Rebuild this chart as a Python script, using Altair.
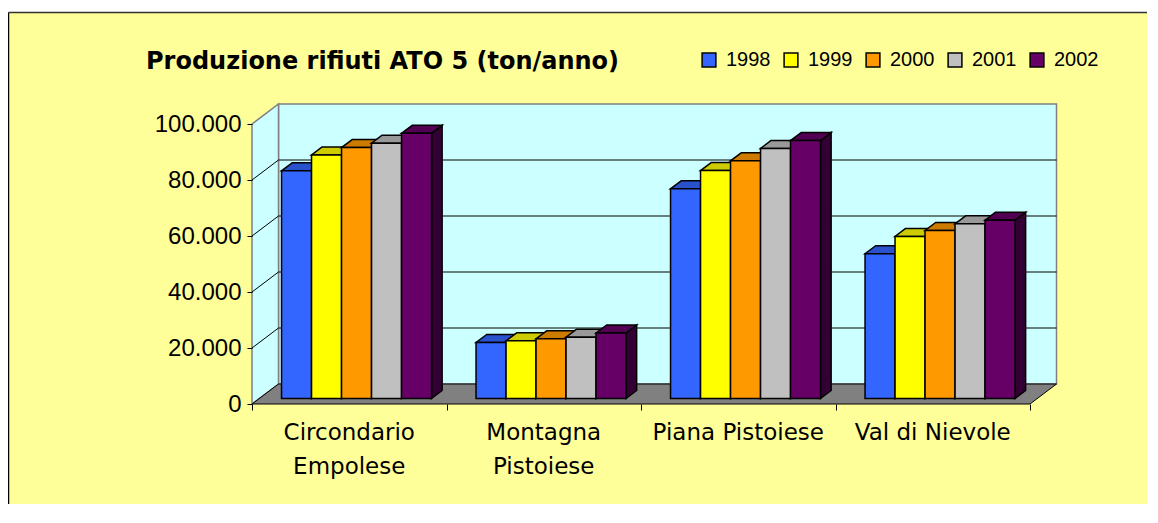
import altair as alt
import pandas as pd

# ---------------- data ----------------
categories = ["Circondario\nEmpolese", "Montagna\nPistoiese", "Piana Pistoiese", "Val di Nievole"]
years = ["1998", "1999", "2000", "2001", "2002"]
v1998 = [81300, 20000, 74900, 51700]
v1999 = [87000, 20600, 81400, 57900]
v2000 = [89600, 21300, 84900, 60000]
v2001 = [91200, 21900, 89300, 62400]
v2002 = [94700, 23400, 92100, 63700]
series = [v1998, v1999, v2000, v2001, v2002]
y_ticks = [0, 20000, 40000, 60000, 80000, 100000]
grid_vals = [20000, 40000, 60000, 80000]

front_colors = ["#3366FF", "#FFFF00", "#FF9900", "#C0C0C0", "#660066"]
top_colors = ["#2A52CC", "#CCCC00", "#CC7A00", "#999999", "#520052"]
side_colors = ["#1F3D99", "#999900", "#995C00", "#737373", "#330033"]

title_text = "Produzione rifiuti ATO 5 (ton/anno)"
FONT = "Liberation Sans"
WIDE = "DejaVu Sans"

# ---------------- layout (pseudo 3-D) ----------------
W, H = 805, 300
PAD = {"left": 244, "top": 96, "right": 90, "bottom": 100}
PX_PER_CAT = 194.5
PX_PER_VAL = 56 / 20000
XMAX = W / PX_PER_CAT
YMAX = H / PX_PER_VAL
DX = 26.5 / PX_PER_CAT        # wall depth in x units
DY = 20 / PX_PER_VAL          # wall depth in value units
F1 = 0.275                    # depth of bar fronts
BD = 0.4                      # bar depth (fraction of wall depth)
BW = 30 / PX_PER_CAT
GAP = (1 - 5 * BW) / 2
NCAT = len(categories)

front, tops, sides = [], [], []
for i, (yr, vals) in enumerate(zip(years, series)):
    for c, v in enumerate(vals):
        x0 = c + GAP + i * BW + F1 * DX
        x1 = x0 + BW
        yb = F1 * DY
        yt = v + F1 * DY
        bid = f"{yr}-{c}"
        front.append(dict(year=yr, cat=categories[c].replace("\n", " "), value=v,
                          x0=x0, x1=x1, yb=yb, yt=yt))
        tops.append(dict(id=bid, col=top_colors[i], y=yt, xa=x0, xb=x1))
        tops.append(dict(id=bid, col=top_colors[i], y=yt + BD * DY, xa=x0 + BD * DX, xb=x1 + BD * DX))
        sides.append(dict(id=bid, col=side_colors[i], x=x1, ya=yb, yb=yt))
        sides.append(dict(id=bid, col=side_colors[i], x=x1 + BD * DX, ya=yb + BD * DY, yb=yt + BD * DY))

front_df = pd.DataFrame(front)
tops_df = pd.DataFrame(tops)
sides_df = pd.DataFrame(sides)

back_df = pd.DataFrame([dict(x=DX, x2=NCAT + DX, y=DY, y2=y_ticks[-1] + DY)])
left_df = pd.DataFrame([dict(x=0, y=0, y2=y_ticks[-1]), dict(x=DX, y=DY, y2=y_ticks[-1] + DY)])
floor_df = pd.DataFrame([dict(y=0, x=0, x2=NCAT), dict(y=DY, x=DX, x2=NCAT + DX)])
grid_rows = []
for g in grid_vals:
    grid_rows.append(dict(x=DX, x2=NCAT + DX, y=g + DY, y2=g + DY))
    grid_rows.append(dict(x=0, x2=DX, y=g, y2=g + DY))
grid_df = pd.DataFrame(grid_rows)
label_df = pd.DataFrame(dict(label=categories, x=[c + 0.5 for c in range(NCAT)], y=[0] * NCAT))

# ---------------- scales / axes ----------------
xscale = alt.Scale(domain=[0, XMAX], nice=False, zero=False)
yscale = alt.Scale(domain=[0, YMAX], nice=False, zero=False)
xaxis = alt.Axis(values=list(range(NCAT + 1)), labels=False, domain=False, grid=False,
                 ticks=True, tickColor="black", tickSize=6, tickWidth=1, title=None, zindex=3)
yaxis = alt.Axis(values=y_ticks, domain=False, grid=False, ticks=True, tickColor="black",
                 tickSize=5, tickWidth=1, title=None, labelFont=FONT, labelFontSize=24,
                 labelColor="black", labelPadding=6, zindex=3,
                 labelExpr="datum.value == 0 ? '0' : format(datum.value / 1000, 'd') + '.000'")


def X(f):
    return alt.X(f, type="quantitative", scale=xscale, axis=xaxis)


def Y(f):
    return alt.Y(f, type="quantitative", scale=yscale, axis=yaxis)


one = pd.DataFrame({"t": [title_text]})
TOPY = -91.5
LEFTX = -243.5
RIGHTX = W + PAD["right"] + 10
BOTY = H + PAD["bottom"] + 10

frame = alt.Chart(one).mark_rect(fill="#FFFF99").encode(
    x=alt.value(LEFTX), x2=alt.value(RIGHTX), y=alt.value(TOPY), y2=alt.value(BOTY))

frame_left = alt.Chart(one).mark_rule(color="black", strokeWidth=1.5).encode(
    x=alt.value(LEFTX), y=alt.value(TOPY), y2=alt.value(BOTY))
frame_top = alt.Chart(one).mark_rule(color="#333333", strokeWidth=1.5).encode(
    x=alt.value(LEFTX), x2=alt.value(RIGHTX), y=alt.value(TOPY))

title = alt.Chart(one).mark_text(
    align="left", baseline="alphabetic", font=WIDE, fontSize=24, fontWeight="bold", color="black"
).encode(x=alt.value(-106), y=alt.value(-35), text="t:N")

back = alt.Chart(back_df).mark_rect(fill="#CCFFFF", stroke="#808080", strokeWidth=1.5).encode(
    x=X("x"), x2="x2", y=Y("y"), y2="y2")

left = alt.Chart(left_df).mark_area(fill="#CCFFFF", stroke="#808080", strokeWidth=1.5,
                                    orient="vertical").encode(x=X("x"), y=Y("y"), y2="y2")

floor = alt.Chart(floor_df).mark_area(fill="#808080", stroke="black", strokeWidth=1,
                                      orient="horizontal").encode(y=Y("y"), x=X("x"), x2="x2")

grid = alt.Chart(grid_df).mark_rule(color="black", strokeWidth=1).encode(
    x=X("x"), x2="x2", y=Y("y"), y2="y2")

side_layer = alt.Chart(sides_df).mark_area(stroke="black", strokeWidth=1.5, orient="vertical",
                                           opacity=1).encode(
    x=X("x"), y=Y("ya"), y2="yb", detail="id:N", fill=alt.Fill("col:N", scale=None))

top_layer = alt.Chart(tops_df).mark_area(stroke="black", strokeWidth=1.5, orient="horizontal",
                                         opacity=1).encode(
    y=Y("y"), x=X("xa"), x2="xb", detail="id:N", fill=alt.Fill("col:N", scale=None))

front_layer = alt.Chart(front_df).mark_rect(stroke="black", strokeWidth=1.5, opacity=1).encode(
    x=X("x0"), x2="x1", y=Y("yb"), y2="yt",
    color=alt.Color("year:N", scale=alt.Scale(domain=years, range=front_colors),
                    legend=alt.Legend(orient="none", legendX=447, legendY=-54,
                                      direction="horizontal", columns=5, title=None,
                                      symbolType="square", symbolSize=190,
                                      symbolStrokeColor="black", symbolStrokeWidth=1.5,
                                      symbolOpacity=1, labelFont=FONT, labelFontSize=20,
                                      labelColor="black", labelOffset=7, columnPadding=10,
                                      padding=0)),
    tooltip=["cat:N", "year:N", "value:Q"])

labels = alt.Chart(label_df).mark_text(
    align="center", baseline="alphabetic", dy=36, lineBreak="\n", lineHeight=34,
    font=WIDE, fontSize=23, color="black"
).encode(x=X("x"), y=Y("y"), text="label:N")

chart = alt.layer(frame, frame_left, frame_top, title, back, left, floor, grid, side_layer,
                  top_layer, front_layer, labels).properties(
    width=W, height=H,
    autosize=alt.AutoSizeParams(type="none"),
    padding=PAD,
).configure(background="white").configure_view(stroke=None)

chart.save("out.html", embed_options={"renderer": "svg", "actions": False})
